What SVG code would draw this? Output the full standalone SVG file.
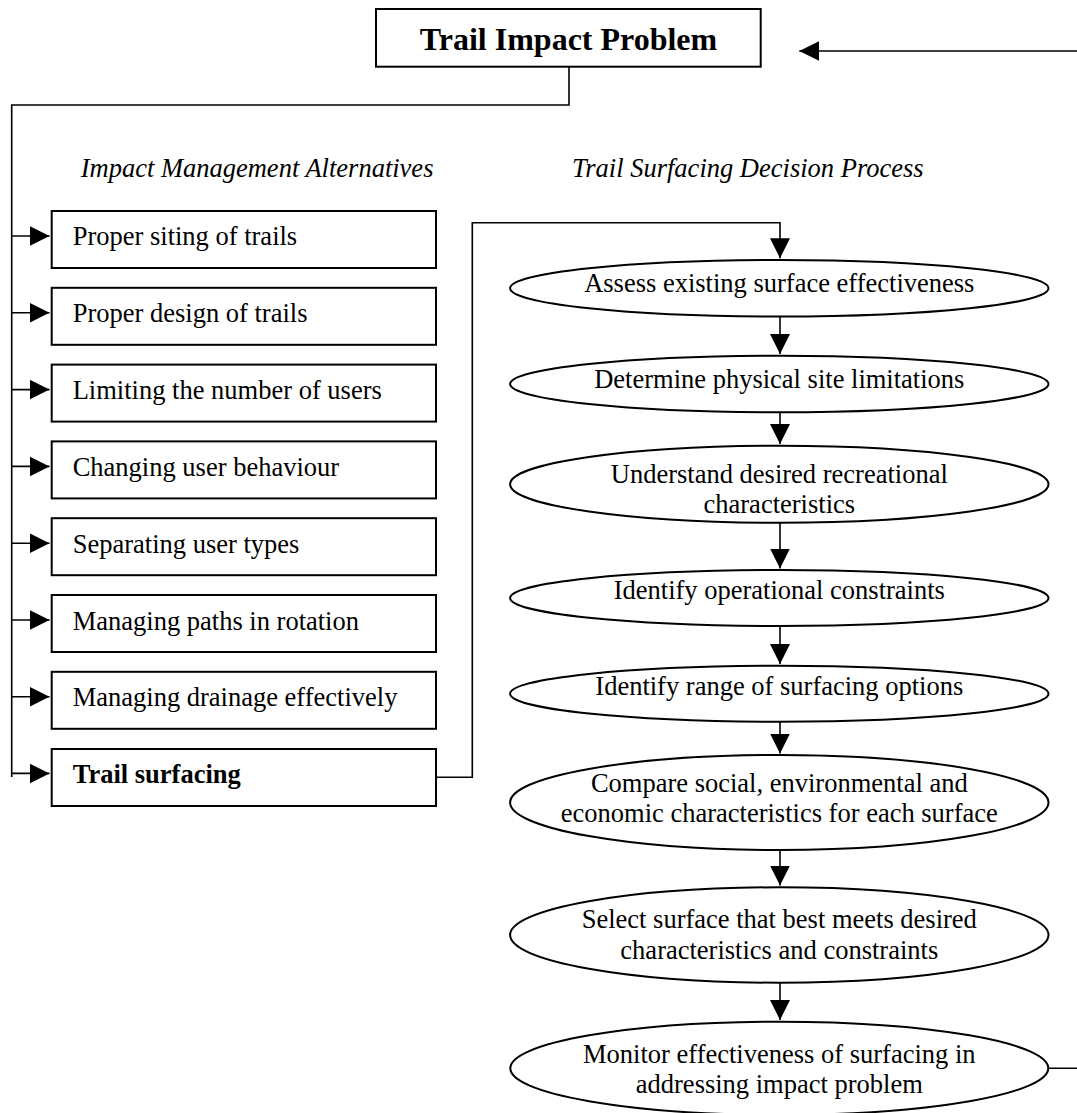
<svg xmlns="http://www.w3.org/2000/svg" width="1077" height="1113" viewBox="0 0 1077 1113">
<style>
text{font-family:"Liberation Serif","Times New Roman",serif;fill:#000}
.t{font-size:26.5px}
.h{font-size:26.5px;font-style:italic}
.title{font-size:32px;font-weight:bold}
.b{font-weight:bold}
.box{fill:#fff;stroke:#000;stroke-width:2}
.ell{fill:#fff;stroke:#000;stroke-width:2}
.c{fill:none;stroke:#000;stroke-width:1.6}
.m{text-anchor:middle}
</style>
<defs>
<marker id="ah" markerUnits="userSpaceOnUse" markerWidth="21" markerHeight="21" refX="20" refY="10" orient="auto">
<path d="M0,0 L20,10 L0,20 z" fill="#000"/>
</marker>
</defs>
<rect width="1077" height="1113" fill="#fff"/>

<g id="connectors">
<path class="c" d="M569,66.7 V105 H11.7 V777"/>
<path class="c" d="M11.7,236 H49.5" marker-end="url(#ah)"/>
<path class="c" d="M11.7,312.8 H49.5" marker-end="url(#ah)"/>
<path class="c" d="M11.7,389.6 H49.5" marker-end="url(#ah)"/>
<path class="c" d="M11.7,466.4 H49.5" marker-end="url(#ah)"/>
<path class="c" d="M11.7,543.2 H49.5" marker-end="url(#ah)"/>
<path class="c" d="M11.7,620 H49.5" marker-end="url(#ah)"/>
<path class="c" d="M11.7,696.8 H49.5" marker-end="url(#ah)"/>
<path class="c" d="M11.7,773.4 H49.5" marker-end="url(#ah)"/>
<path class="c" d="M433.3,777.3 H472.3 V222.7 H780 V258.3" marker-end="url(#ah)"/>
<path class="c" d="M780,316.7 V354" marker-end="url(#ah)"/>
<path class="c" d="M780,412.3 V444" marker-end="url(#ah)"/>
<path class="c" d="M780,522.7 V568.5" marker-end="url(#ah)"/>
<path class="c" d="M780,626 V664" marker-end="url(#ah)"/>
<path class="c" d="M780,721.7 V753.5" marker-end="url(#ah)"/>
<path class="c" d="M780,850 V885.5" marker-end="url(#ah)"/>
<path class="c" d="M780,982.7 V1020" marker-end="url(#ah)"/>
<path class="c" d="M1048.3,1068.3 H1082 V51 H799.3" marker-end="url(#ah)"/>
</g>

<g id="title">
<rect class="box" x="376" y="9" width="384.7" height="57.7"/>
<text class="title m" x="568.5" y="50">Trail Impact Problem</text>
</g>

<g id="heading-left"><text class="h" x="80.7" y="177.3">Impact Management Alternatives</text></g>
<g id="heading-right"><text class="h" x="572" y="177.3">Trail Surfacing Decision Process</text></g>

<g id="alt1"><rect class="box" x="51.7" y="211" width="384.3" height="57"/><text class="t" x="72.7" y="245">Proper siting of trails</text></g>
<g id="alt2"><rect class="box" x="51.7" y="287.8" width="384.3" height="57"/><text class="t" x="72.7" y="322.3">Proper design of trails</text></g>
<g id="alt3"><rect class="box" x="51.7" y="364.6" width="384.3" height="57"/><text class="t" x="72.7" y="399.1">Limiting the number of users</text></g>
<g id="alt4"><rect class="box" x="51.7" y="441.4" width="384.3" height="57"/><text class="t" x="72.7" y="475.9">Changing user behaviour</text></g>
<g id="alt5"><rect class="box" x="51.7" y="518.2" width="384.3" height="57"/><text class="t" x="72.7" y="552.7">Separating user types</text></g>
<g id="alt6"><rect class="box" x="51.7" y="595" width="384.3" height="57"/><text class="t" x="72.7" y="629.5">Managing paths in rotation</text></g>
<g id="alt7"><rect class="box" x="51.7" y="671.8" width="384.3" height="57"/><text class="t" x="72.7" y="706.3">Managing drainage effectively</text></g>
<g id="alt8"><rect class="box" x="51.7" y="749" width="384.3" height="57"/><text class="t b" x="72.7" y="783.3">Trail surfacing</text></g>

<g id="step1"><ellipse class="ell" cx="779.3" cy="288.3" rx="269.2" ry="28.3"/><text class="t m" x="779.3" y="291.7">Assess existing surface effectiveness</text></g>
<g id="step2"><ellipse class="ell" cx="779.3" cy="384" rx="269.2" ry="28.3"/><text class="t m" x="779.3" y="388.3">Determine physical site limitations</text></g>
<g id="step3"><ellipse class="ell" cx="779.3" cy="484.2" rx="269.2" ry="38.5"/><text class="t m" x="779.3" y="483.3">Understand desired recreational</text><text class="t m" x="779.3" y="513.3">characteristics</text></g>
<g id="step4"><ellipse class="ell" cx="779.3" cy="598" rx="269.2" ry="28"/><text class="t m" x="779.3" y="599.3">Identify operational constraints</text></g>
<g id="step5"><ellipse class="ell" cx="779.3" cy="693.7" rx="269.2" ry="28"/><text class="t m" x="779.3" y="694.5">Identify range of surfacing options</text></g>
<g id="step6"><ellipse class="ell" cx="779.3" cy="802.5" rx="269.2" ry="47.5"/><text class="t m" x="779.3" y="791.7">Compare social, environmental and</text><text class="t m" x="779.3" y="821.7">economic characteristics for each surface</text></g>
<g id="step7"><ellipse class="ell" cx="779.3" cy="935" rx="269.2" ry="47.7"/><text class="t m" x="779.3" y="928.3">Select surface that best meets desired</text><text class="t m" x="779.3" y="958.5">characteristics and constraints</text></g>
<g id="step8"><ellipse class="ell" cx="779.3" cy="1068.3" rx="269" ry="46.6"/><text class="t m" x="779.3" y="1063.3">Monitor effectiveness of surfacing in</text><text class="t m" x="779.3" y="1093.3">addressing impact problem</text></g>
</svg>
